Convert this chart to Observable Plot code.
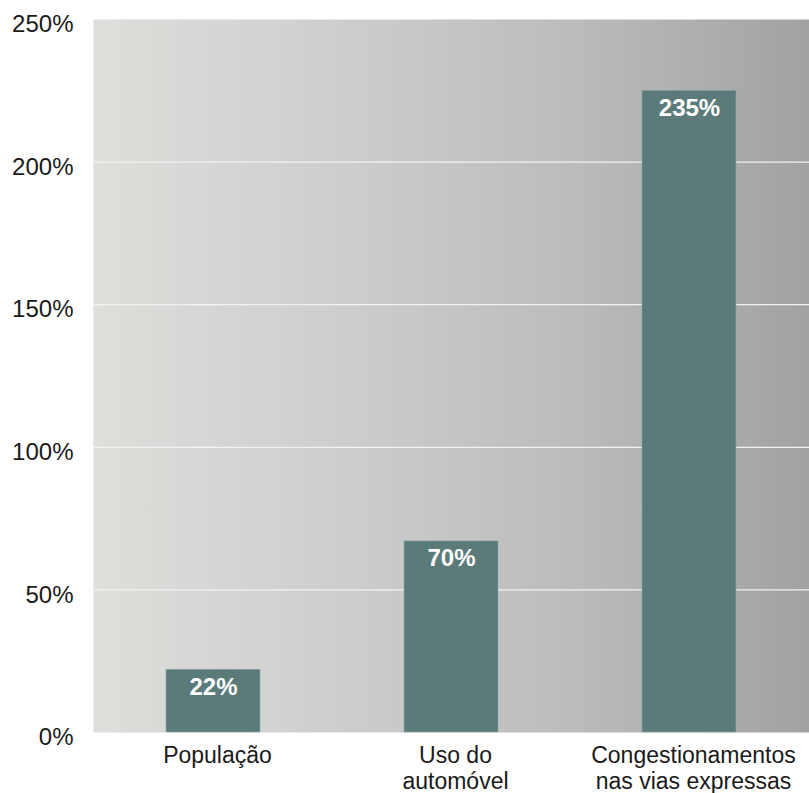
<!DOCTYPE html>
<html>
<head>
<meta charset="utf-8">
<script src="https://cdn.jsdelivr.net/npm/d3@7"></script>
<script src="https://cdn.jsdelivr.net/npm/@observablehq/plot@0.6"></script>
<style>
  html, body { margin: 0; padding: 0; background: #fff; }
  #chart { width: 809px; height: 793px; }
  svg { font-family: "Liberation Sans", Arial, sans-serif; }
</style>
</head>
<body>
<div id="chart"></div>
<script>
const categories = ["População", "Uso do\nautomóvel", "Congestionamentos\nnas vias expressas"];
const barHeights = [22, 67, 225];          // bar heights as drawn in the picture (%)
const valueLabels = ["22%", "70%", "235%"]; // labels printed on the bars
const yTicks = [0, 50, 100, 150, 200, 250];
const gridValues = [50, 100, 150, 200];

const data = categories.map((c, i) => ({cat: c, value: barHeights[i], label: valueLabels[i]}));

const chart = Plot.plot({
  width: 809,
  height: 793,
  marginTop: 19,
  marginBottom: 61,
  marginLeft: 93,
  marginRight: 0,
  style: {fontFamily: '"Liberation Sans", Arial, sans-serif', fontSize: "24px", color: "#1a1a1a", background: "#fff"},
  x: {domain: categories, padding: 0, label: null},
  y: {domain: [0, 250], label: null},
  marks: [
    Plot.frame({fill: "url(#bgGrad)", stroke: "none"}),
    Plot.ruleY(gridValues, {stroke: "#f2f2f2", strokeWidth: 1.3}),
    Plot.barY(data, {x: "cat", y: "value", fill: "#5b7b7b", insetLeft: 72, insetRight: 72, stroke: "#8fa6a6", strokeWidth: 0.6}),
    Plot.text(data, {x: "cat", y: "value", text: "label", fill: "white", fontWeight: "bold", fontSize: 24, lineAnchor: "top", dy: 8}),
    Plot.axisY(yTicks, {tickSize: 0, tickPadding: 20, tickFormat: d => d + "%", fontSize: 24, dy: 5, fill: "#1a1a1a"}),
    Plot.axisX({tickSize: 0, tickPadding: 12, fontSize: 23, lineHeight: 1.12, dx: 4, fill: "#1a1a1a"})
  ]
});

const svg = d3.select(chart);
const defs = svg.insert("defs", ":first-child");
const grad = defs.append("linearGradient").attr("id", "bgGrad").attr("x1", "0").attr("x2", "1").attr("y1", "0").attr("y2", "0");
grad.append("stop").attr("offset", "0%").attr("stop-color", "#dedfdb");
grad.append("stop").attr("offset", "33%").attr("stop-color", "#cecece");
grad.append("stop").attr("offset", "65%").attr("stop-color", "#bdbdbd");
grad.append("stop").attr("offset", "100%").attr("stop-color", "#a2a2a2");

document.getElementById("chart").appendChild(chart);
</script>
</body>
</html>
